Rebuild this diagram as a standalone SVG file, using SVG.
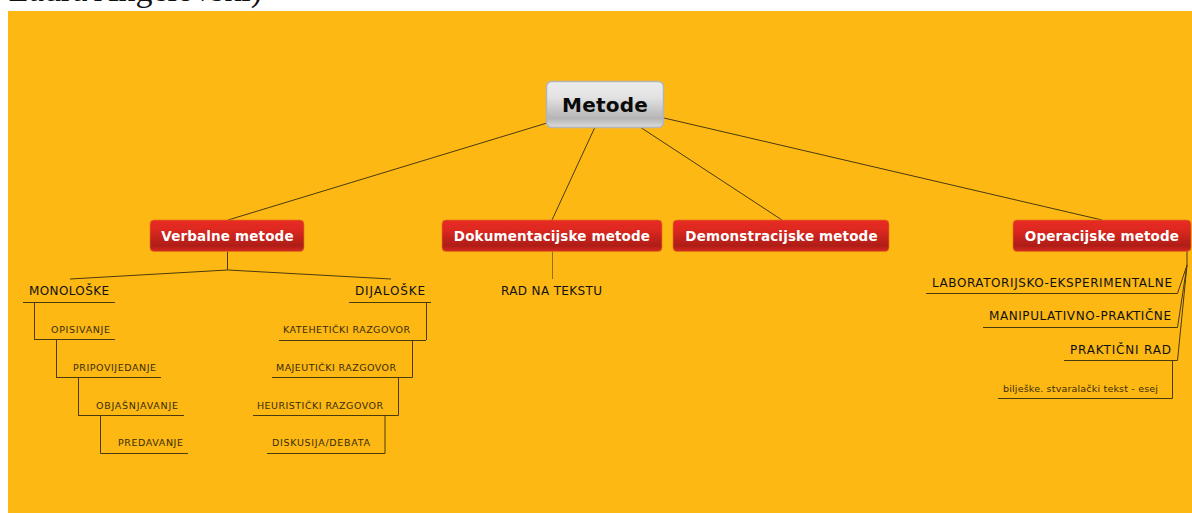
<svg xmlns="http://www.w3.org/2000/svg" width="1192" height="513" viewBox="0 0 1192 513">
<style>
text{font-family:"DejaVu Sans",sans-serif}
.top{font-family:"Liberation Serif",serif;font-size:34px;fill:#111}
.main{font-size:13.500px;font-weight:bold;fill:#fff;text-anchor:middle;letter-spacing:.15px}
.l2{font-size:12px;fill:#111}
.l3{font-size:9.500px;fill:#3a2c08}
.c{fill:none;stroke:#4a3a10;stroke-width:1}
.n{stroke:#e2761a;stroke-width:.7;fill:url(#red)}
</style>
<defs>
<linearGradient id="red" x1="0" y1="0" x2="0" y2="1">
<stop offset="0" stop-color="#e82b22"/><stop offset=".3" stop-color="#dd2820"/><stop offset=".82" stop-color="#ae1d17"/><stop offset="1" stop-color="#d82a20"/>
</linearGradient>
<linearGradient id="grey" x1="0" y1="0" x2="0" y2="1">
<stop offset="0" stop-color="#ececec"/><stop offset=".35" stop-color="#e2e2e2"/><stop offset=".8" stop-color="#b5b5b5"/><stop offset="1" stop-color="#dcdcdc"/>
</linearGradient>
</defs>
<rect width="1192" height="513" fill="#fff"/>
<text class="top" x="8" y="1">Zadra Angelovski)</text>
<rect x="8" y="11" width="1184" height="502" fill="#fdb813"/>
<g id="connectors">
<path class="c" d="M547 123L228 220M595 127L552 220M640 127L782 220M664 118L1102 220"/>
<path class="c" d="M227.500 251V270M227.500 270L70 279M227.500 270L391 279"/>
<path class="c" d="M23 302.500H115M34.500 302V340M34 339.500H115M56.500 340V377M56 377.500H161M78.500 377V415M78 415.500H184M100.500 415V453.500H188"/>
<path class="c" d="M349 302.500H431M426.500 302V340M279 340.500H426M412.500 340V377.500H272M398.500 377V415.500H253M385 415V453.500H267"/>
<path d="M552.500 251V279" fill="none" stroke="#8f7015" stroke-width="1"/>
<path class="c" d="M1187 251V265L1177.500 293.500H926M1187 265L1177.500 327.500H983M1187 265L1177.500 360.500H1064M1172.500 360V398.500H998"/>
</g>
<g id="n-metode">
<rect x="546.500" y="81.500" width="117" height="46" rx="5" fill="url(#grey)" stroke="#b4b4b4" stroke-width="1.500"/>
<text x="605" y="112" font-size="20" font-weight="bold" fill="#0a0a0a" text-anchor="middle" letter-spacing=".2">Metode</text>
</g>
<g id="n-verbalne"><rect class="n" x="150" y="220" width="154" height="31.500" rx="4"/><text class="main" x="227.500" y="241">Verbalne metode</text></g>
<g id="n-dokumentacijske"><rect class="n" x="442" y="220" width="220" height="31.500" rx="4"/><text class="main" x="552" y="241">Dokumentacijske metode</text></g>
<g id="n-demonstracijske"><rect class="n" x="673" y="220" width="216" height="31.500" rx="4"/><text class="main" x="781.500" y="241">Demonstracijske metode</text></g>
<g id="n-operacijske"><rect class="n" x="1013" y="220" width="178" height="31.500" rx="4"/><text class="main" x="1102" y="241">Operacijske metode</text></g>
<g id="n-monoloske"><text class="l2" x="29" y="295" textLength="80">MONOLOŠKE</text></g>
<g id="n-dijaloske"><text class="l2" x="355" y="295" textLength="70">DIJALOŠKE</text></g>
<g id="n-opisivanje"><text class="l3" x="51" y="333" textLength="59">OPISIVANJE</text></g>
<g id="n-pripovijedanje"><text class="l3" x="73" y="371" textLength="83">PRIPOVIJEDANJE</text></g>
<g id="n-objasnjavanje"><text class="l3" x="96" y="409" textLength="82">OBJAŠNJAVANJE</text></g>
<g id="n-predavanje"><text class="l3" x="118" y="446" textLength="65">PREDAVANJE</text></g>
<g id="n-katehetski"><text class="l3" x="283" y="333" textLength="127">KATEHETIČKI RAZGOVOR</text></g>
<g id="n-majeuticki"><text class="l3" x="276" y="371" textLength="120">MAJEUTIČKI RAZGOVOR</text></g>
<g id="n-heuristicki"><text class="l3" x="257" y="409" textLength="126">HEURISTIČKI RAZGOVOR</text></g>
<g id="n-diskusija"><text class="l3" x="272" y="446" textLength="98">DISKUSIJA/DEBATA</text></g>
<g id="n-rad"><text class="l2" x="501" y="295" textLength="101">RAD NA TEKSTU</text></g>
<g id="n-laboratorijsko"><text class="l2" x="932" y="287" textLength="240">LABORATORIJSKO-EKSPERIMENTALNE</text></g>
<g id="n-manipulativno"><text class="l2" x="989" y="320" textLength="182">MANIPULATIVNO-PRAKTIČNE</text></g>
<g id="n-prakticni"><text class="l2" x="1070" y="354" textLength="101">PRAKTIČNI RAD</text></g>
<g id="n-biljeske"><text x="1003" y="392" font-size="9.500" fill="#3a2c08" textLength="155">bilješke. stvaralački tekst - esej</text></g>
</svg>
